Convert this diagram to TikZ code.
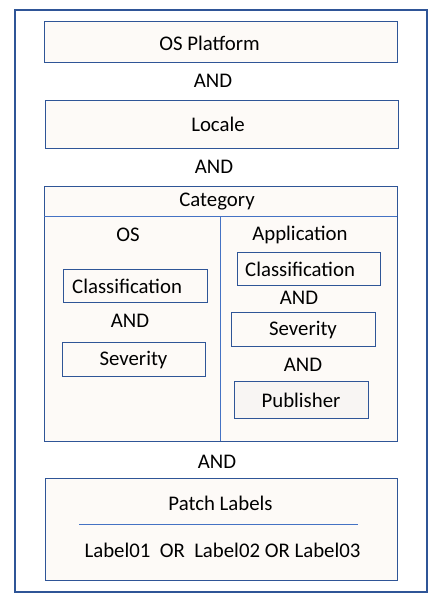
\documentclass[tikz,border=0pt]{standalone}
\usepackage{fontspec}
\setmainfont{Carlito}
\definecolor{frameblue}{HTML}{2F5597}
\definecolor{lineblue}{HTML}{4472C4}
\definecolor{cream}{HTML}{FDFAF7}
\definecolor{pubfill}{HTML}{F8F5F3}
\tikzset{
  txt/.style={font=\fontsize{20.8}{24}\selectfont, inner sep=0pt, text=black},
  ltxt/.style={txt, anchor=west},
  bigbox/.style={draw=frameblue, line width=1pt, fill=cream, inner sep=0pt},
  smallbox/.style={draw=frameblue, line width=1pt, fill=cream, inner sep=0pt},
  divider/.style={draw=lineblue, line width=1pt}
}
\begin{document}
\begin{tikzpicture}[x=1pt,y=-1pt]
\useasboundingbox (0,0) rectangle (439,600);
\draw[frameblue, line width=1.3pt, fill=white] (15,10) rectangle (427,592);
% top boxes
\node[bigbox, minimum width=353pt, minimum height=41pt] (osp) at (220.5,41.5) {};
\node[txt] (osptext) at (209.5,43) {OS Platform};
\node[txt] (and1) at (213,80.5) {AND};
\node[bigbox, minimum width=353pt, minimum height=48pt] (loc) at (221.5,124) {};
\node[txt] (loctext) at (218,124) {Locale};
\node[txt] (and2) at (214,166.5) {AND};
% category
\node[bigbox, minimum width=353pt, minimum height=255pt] (cat) at (220.5,313.5) {};
\node[txt] (cattitle) at (217,201.5) {Category};
\coordinate (hl) at (44,216);
\coordinate (hr) at (397,216);
\coordinate (vt) at (220,216);
\coordinate (vb) at (220,441);
\draw[divider] (hl) -- (hr);
\draw[divider] (vt) -- (vb);
% OS column
\node[txt] (os) at (128,235) {OS};
\node[smallbox, minimum width=144pt, minimum height=33pt] (lclass) at (135,285.5) {};
\node[ltxt] (lclasstext) at (72,286) {Classification};
\node[txt] (and3) at (130,320.5) {AND};
\node[smallbox, minimum width=143pt, minimum height=34pt] (lsev) at (133.5,359) {};
\node[txt] (lsevtext) at (133.5,360.5) {Severity};
% Application column
\node[txt] (app) at (300,234.5) {Application};
\node[smallbox, minimum width=143pt, minimum height=33pt] (rclass) at (308.5,268.5) {};
\node[ltxt] (rclasstext) at (245,269) {Classification};
\node[txt] (and4) at (299,297.5) {AND};
\node[smallbox, minimum width=144pt, minimum height=34pt] (rsev) at (303,329) {};
\node[txt] (rsevtext) at (303,330) {Severity};
\node[txt] (and5) at (303,364.5) {AND};
\node[smallbox, fill=pubfill, minimum width=134pt, minimum height=37pt] (pub) at (301,399.5) {};
\node[txt] (pubtext) at (301,400.5) {Publisher};
% bottom
\node[txt] (and6) at (217,461.5) {AND};
\node[bigbox, minimum width=352pt, minimum height=102pt] (patch) at (221,529) {};
\node[txt] (ptitle) at (220.5,503) {Patch Labels};
\coordinate (pl) at (79,524);
\coordinate (pr) at (358,524);
\draw[divider] (pl) -- (pr);
\node[txt] (labels) at (222.5,550.5) {Label01\ \ OR\ \ Label02 OR Label03};
\end{tikzpicture}
\end{document}
